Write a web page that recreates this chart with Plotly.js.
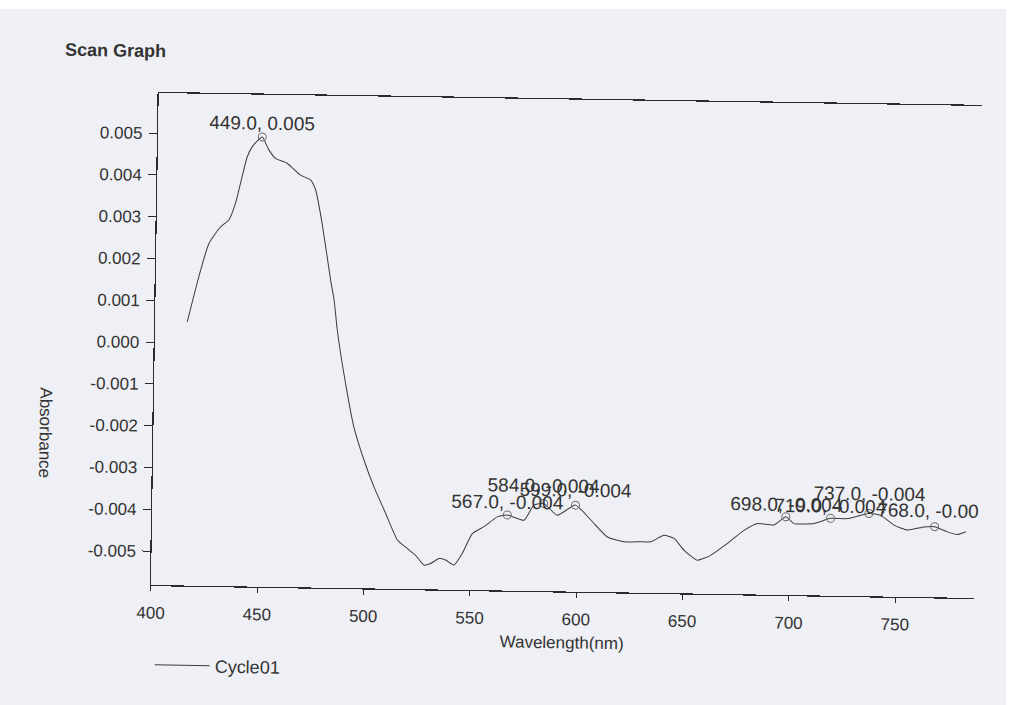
<!DOCTYPE html>
<html>
<head>
<meta charset="utf-8">
<script src="https://cdn.plot.ly/plotly-3.0.1.min.js"></script>
<style>
html, body { margin: 0; padding: 0; background: #ffffff; overflow: hidden; width: 1012px; height: 705px; }
#paper { position: absolute; left: 0; top: 9px; width: 1006px; height: 696px; background: #eff0f5; }
#chart { position: absolute; left: 0; top: 0; width: 1012px; height: 705px; transform: rotate(0.9deg); transform-origin: 151px 585px; }
</style>
</head>
<body>
<div id="paper"></div>
<div id="chart"></div>
<script>
// Scan curve (wavelength in nm, absorbance)
const wavelength = [
  415.1, 420.2, 424.7, 430.0, 433.9, 436.9, 442.1, 444.5, 449.0, 452.0,
  455.4, 460.9, 467.3, 472.0, 474.5, 477.8, 482.2, 484.0, 485.7, 490.0,
  494.2, 499.2, 504.1, 509.8, 515.5, 520.2, 524.2, 528.2, 531.3, 535.2,
  538.3, 542.3, 546.1, 550.7, 556.1, 562.3, 567.0, 574.9, 579.4, 584.0,
  590.5, 599.0, 606.3, 614.2, 622.1, 629.9, 634.6, 640.8, 645.6, 650.4,
  656.7, 662.9, 670.7, 678.4, 684.7, 692.5, 698.0, 701.9, 711.3, 719.0,
  726.9, 737.0, 742.6, 748.9, 755.3, 763.1, 768.0, 774.1, 778.8, 782.7
];
const absorbance = [
  0.00050, 0.00158, 0.00238, 0.00278, 0.00295, 0.00335, 0.00447, 0.00472, 0.00495, 0.00466,
  0.00444, 0.00433, 0.00405, 0.00394, 0.00370, 0.00290, 0.00155, 0.00107, 0.00036, -0.00092,
  -0.00195, -0.00274, -0.00338, -0.00401, -0.00464, -0.00484, -0.00500, -0.00523, -0.00519, -0.00507,
  -0.00510, -0.00522, -0.00494, -0.00446, -0.00429, -0.00405, -0.00400, -0.00412, -0.00376, -0.00371,
  -0.00399, -0.00374, -0.00409, -0.00449, -0.00460, -0.00459, -0.00459, -0.00443, -0.00450, -0.00478,
  -0.00501, -0.00489, -0.00460, -0.00428, -0.00411, -0.00414, -0.00394, -0.00410, -0.00409, -0.00396,
  -0.00396, -0.00383, -0.00387, -0.00410, -0.00421, -0.00413, -0.00412, -0.00424, -0.00430, -0.00423
];

// Peak picks printed on the graph
const peakWavelength = [449, 567, 584, 599, 698, 719, 737, 768];
const peakAbsorbance = [0.00495, -0.00400, -0.00371, -0.00374, -0.00394, -0.00396, -0.00383, -0.00412];
const peakLabels = ["449.0, 0.005", "567.0, -0.004", "584.0, -0.004", "599.0, -0.004",
                    "698.0, -0.004", "719.0, -0.004", "737.0, -0.004", "768.0, -0.00"];

// Axis ticks
const xTickValues = [400, 450, 500, 550, 600, 650, 700, 750];
const yTickValues = [0.005, 0.004, 0.003, 0.002, 0.001, 0.000, -0.001, -0.002, -0.003, -0.004, -0.005];
const yTickLabels = ["0.005", "0.004", "0.003", "0.002", "0.001", "0.000", "-0.001", "-0.002", "-0.003", "-0.004", "-0.005"];

const seriesName = "Cycle01";

const FONT = "Liberation Sans, Arial, sans-serif";
const INK = "#333333";

const labelShiftY = [14, 13, 18, 15, 12, 12, 20, 16];

const annotations = peakWavelength.map((w, i) => {
  const last = i === peakWavelength.length - 1;
  return {
    x: w, y: peakAbsorbance[i], xref: "x", yref: "y",
    text: peakLabels[i], showarrow: false,
    xanchor: last ? "left" : "center", yanchor: "middle",
    xshift: last ? -60 : 0, yshift: labelShiftY[i],
    font: { family: FONT, size: 19, color: INK }
  };
});

annotations.push({
  text: "Absorbance", xref: "paper", yref: "paper", x: -0.1317, y: 0.3055,
  xanchor: "center", yanchor: "middle", textangle: 90, showarrow: false,
  font: { family: FONT, size: 17, color: INK }
});

const traces = [
  {
    x: wavelength, y: absorbance, type: "scatter", mode: "lines", name: seriesName,
    line: { color: "#3a3a3a", width: 1, shape: "spline", smoothing: 0.5 }
  },
  {
    x: peakWavelength, y: peakAbsorbance, type: "scatter", mode: "markers", showlegend: false,
    marker: { symbol: "circle-open", size: 8, color: "#6a6a6a", line: { width: 1 } },
    hoverinfo: "skip"
  }
];

const layout = {
  width: 1012, height: 705,
  margin: { l: 151, r: 38, t: 93, b: 120 },
  paper_bgcolor: "rgba(0,0,0,0)", plot_bgcolor: "rgba(0,0,0,0)",
  font: { family: FONT, color: INK, size: 17 },
  title: {
    text: "<b>Scan Graph</b>", xref: "container", yref: "container",
    x: 0.056, xanchor: "left", y: 0.928, yanchor: "middle",
    font: { family: FONT, size: 18, color: INK }
  },
  xaxis: {
    range: [400, 787], tickvals: xTickValues, ticktext: xTickValues.map(String),
    showgrid: false, zeroline: false, showline: true, mirror: true,
    linecolor: "#2b2b2b", linewidth: 1.2,
    ticks: "outside", ticklen: 5, tickcolor: "#2b2b2b", ticklabelstandoff: 7,
    tickfont: { family: FONT, size: 17, color: INK },
    title: { text: "Wavelength(nm)", standoff: 8, font: { family: FONT, size: 17, color: INK } }
  },
  yaxis: {
    range: [-0.00581, 0.00596], tickvals: yTickValues, ticktext: yTickLabels,
    showgrid: false, zeroline: false, showline: true, mirror: false,
    linecolor: "#2b2b2b", linewidth: 1.2,
    ticks: "outside", ticklen: 8, tickcolor: "#2b2b2b", ticklabelstandoff: 3,
    tickfont: { family: FONT, size: 17, color: INK }
  },
  showlegend: true,
  legend: {
    orientation: "h", x: 0, xanchor: "left", y: -0.1626, yanchor: "middle",
    itemwidth: 55,
    bgcolor: "rgba(0,0,0,0)", font: { family: FONT, size: 18, color: INK }
  },
  annotations: annotations
};

Plotly.newPlot("chart", traces, layout, { staticPlot: true, displayModeBar: false });
</script>
</body>
</html>
